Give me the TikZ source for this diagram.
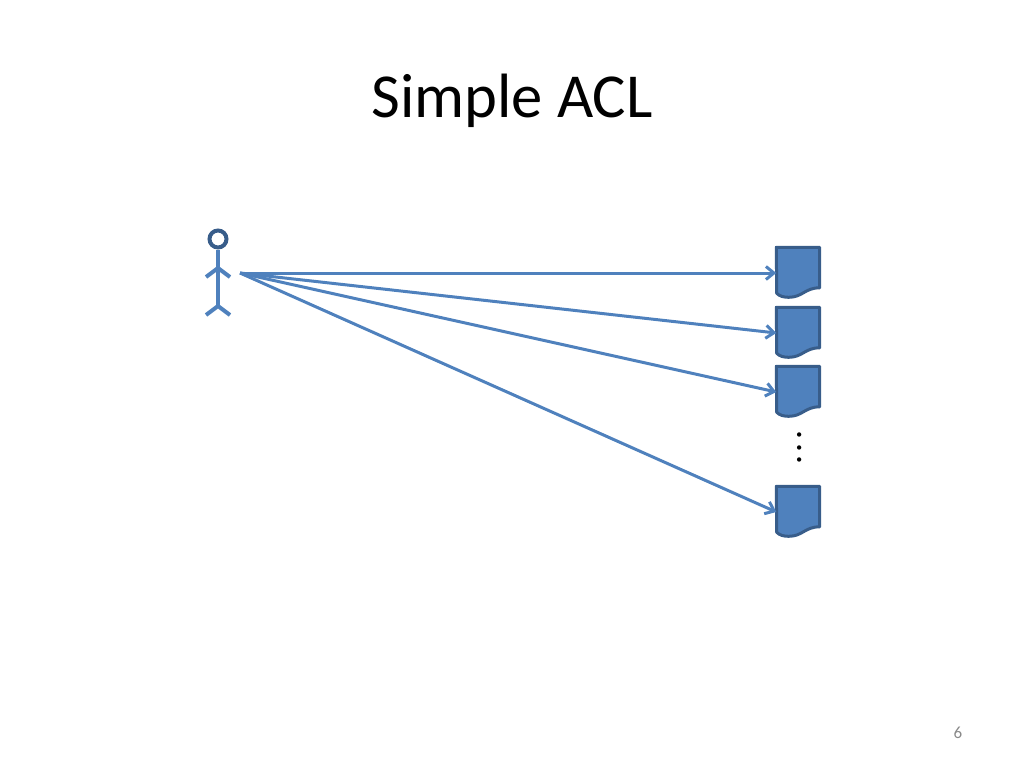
\documentclass[tikz,border=0pt]{standalone}
\usepackage{fontspec}
\setmainfont{Carlito}
\usetikzlibrary{arrows.meta,positioning}
\definecolor{fillblue}{HTML}{4F81BD}
\definecolor{edgeblue}{HTML}{385D8A}
\definecolor{numgray}{HTML}{898989}
\tikzset{
  title/.style={
    font=\fontsize{62.6}{70}\selectfont,
    inner sep=0pt
  },
  docbox/.style={
    minimum width=43pt,
    minimum height=51pt,
    inner sep=0pt
  },
  docsheet/.style={
    draw=edgeblue,
    fill=fillblue,
    line width=3pt,
    line join=round
  },
  limb/.style={draw=fillblue, line width=4pt},
  arrow/.style={
    -{Straight Barb[length=8pt,width=13pt]},
    draw=fillblue,
    line width=3pt
  }
}
\begin{document}
\begin{tikzpicture}[x=1pt,y=-1pt]
\useasboundingbox (0,0) rectangle (1024,768);

\node[title] (heading) at (512,101) {Simple ACL};
\node[font=\fontsize{17}{20}\selectfont, text=numgray, inner sep=0pt] (pagenum) at (958,733) {6};

% Stick figure
\node[circle, draw=edgeblue, line width=4pt, minimum size=17pt, inner sep=0pt] (head) at (218,239) {};
\coordinate (neck) at (218,268);
\coordinate (hip) at (218,306);
\draw[limb] (head.south) -- (hip);
\draw[limb] (206,277) -- (neck) -- (230,277);
\draw[limb] (206,315) -- (hip) -- (230,315);
\coordinate (hand) at (240,273);

% Documents
\foreach \name/\ypos in {doca/273, docb/333, docc/392, docd/512} {
  \node[docbox] (\name) at (798,\ypos) {};
  \draw[docsheet] (\name.north west) -- (\name.north east) -- ++(0,40.5)
    .. controls ++(-15,0) and ++(14,0) .. ++(-31,9.5)
    .. controls ++(-5,0) and ++(3,3) .. ++(-12,-4) -- cycle;
}

\node[rotate=90, font=\fontsize{36}{40}\selectfont, inner sep=0pt] (dots) at (800,447.5) {.\hspace{3.5pt}.\hspace{3.5pt}.};

\foreach \name in {doca, docb, docc, docd}
  \draw[arrow] (hand) -- (\name.west);

\end{tikzpicture}
\end{document}
